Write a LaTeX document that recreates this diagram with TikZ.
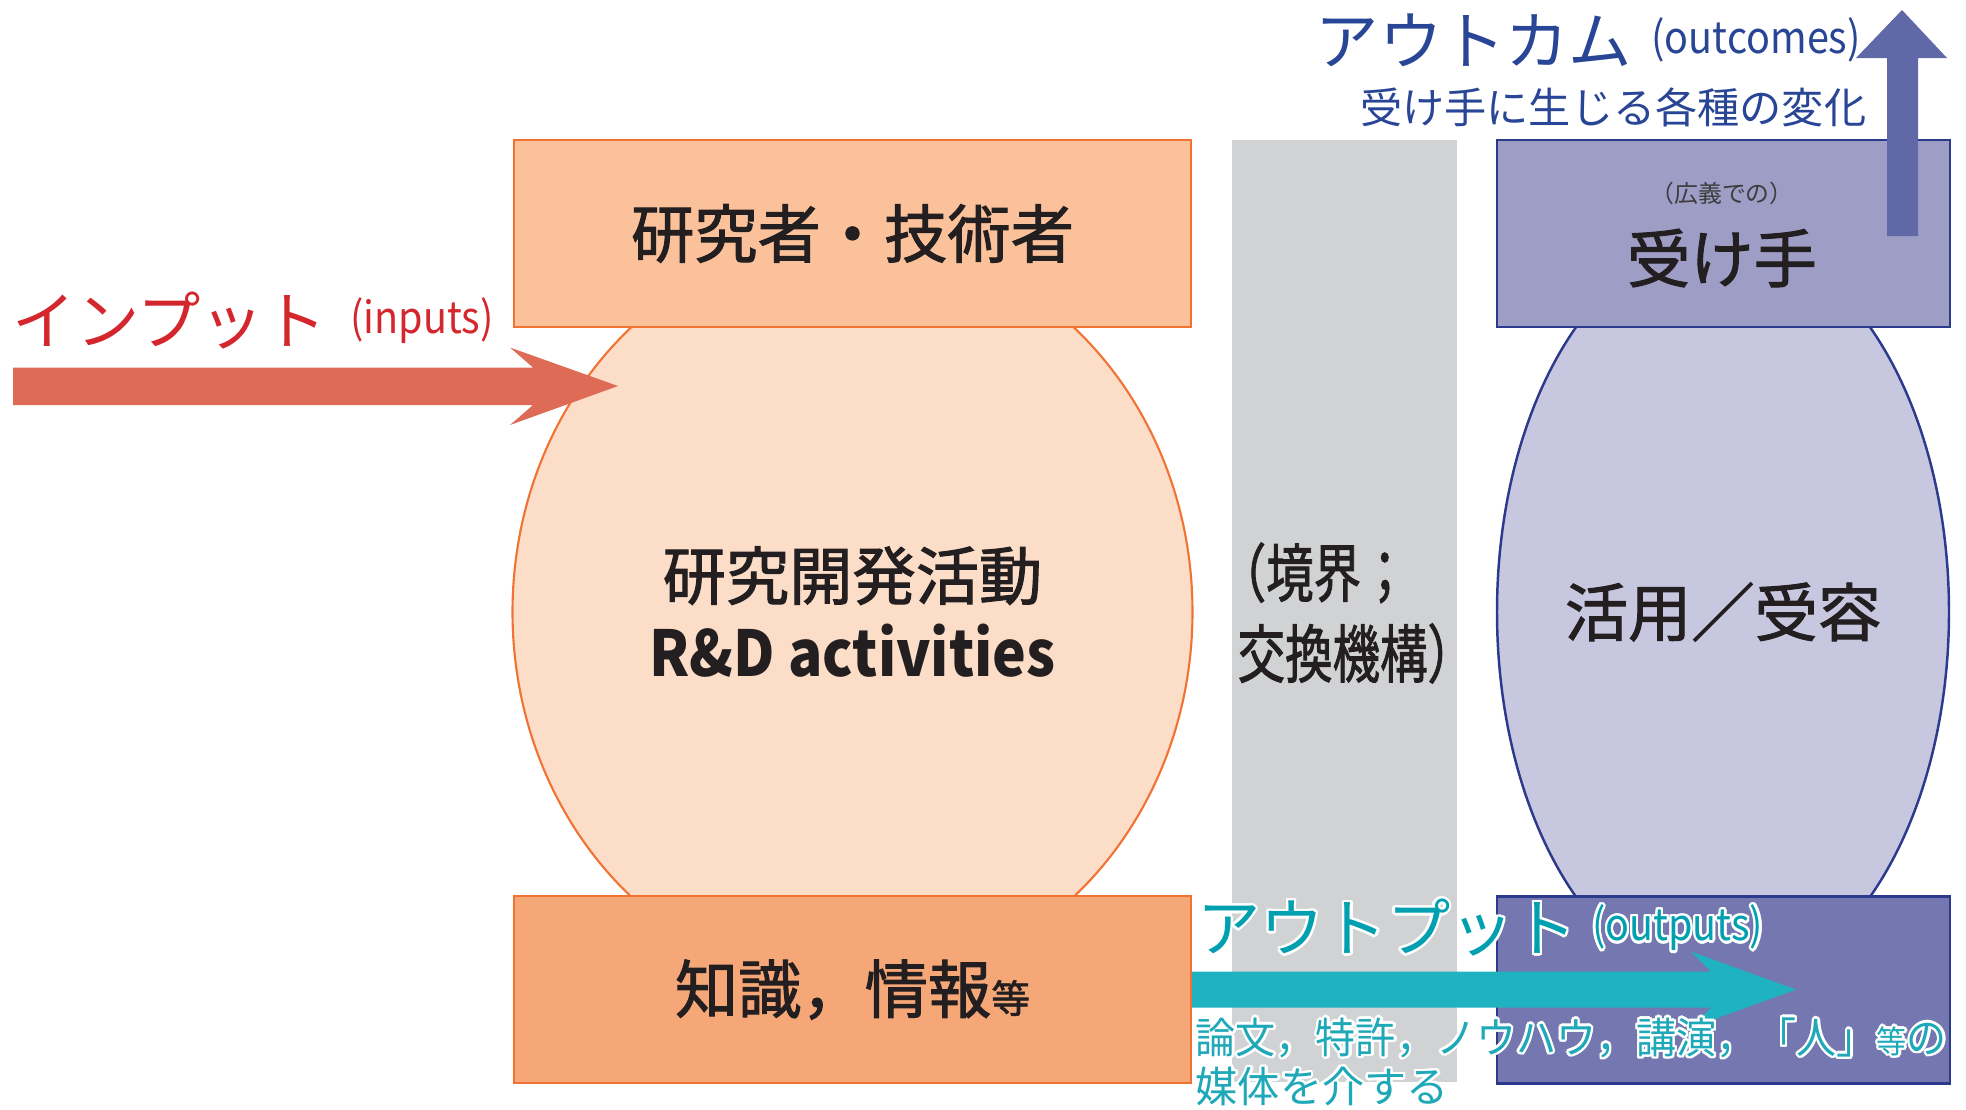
\documentclass[tikz,border=0pt]{standalone}
\usepackage{fontspec}
\setmainfont{Noto Sans CJK JP}
\newfontfamily\jpmed{Noto Sans CJK JP}[FakeBold=1.6]
\usepackage{contour}
\contourlength{0.7pt}
\usetikzlibrary{positioning,shapes}

\definecolor{edgeorange}{RGB}{241,114,51}
\definecolor{toporange}{RGB}{250,193,155}
\definecolor{lightorange}{RGB}{251,221,200}
\definecolor{botorange}{RGB}{246,167,119}
\definecolor{bandgray}{RGB}{209,210,212}
\definecolor{edgeblue}{RGB}{43,58,140}
\definecolor{topviolet}{RGB}{158,157,198}
\definecolor{lightviolet}{RGB}{199,199,224}
\definecolor{botviolet}{RGB}{117,119,176}
\definecolor{upviolet}{RGB}{96,104,168}
\definecolor{outcomeblue}{RGB}{41,69,150}
\definecolor{inarrow}{RGB}{222,107,85}
\definecolor{inred}{RGB}{212,39,45}
\definecolor{outarrow}{RGB}{31,178,192}
\definecolor{outteal}{RGB}{0,160,176}
\definecolor{mediateal}{RGB}{30,168,184}
\definecolor{inkblack}{RGB}{35,31,32}
\definecolor{subgray}{RGB}{60,60,60}

\newcommand{\bigjp}{\fontsize{18}{22}\selectfont}
\newcommand{\midjp}{\fontsize{12}{14}\selectfont}
\newcommand{\enlbl}{\fontsize{12.5}{15}\selectfont}
\newcommand{\narrow}[1]{\scalebox{.9}[1]{#1}}

\tikzstyle{obox}=[rectangle, draw=edgeorange, line width=0.6pt, minimum width=67.7mm, minimum height=18.7mm,
inner sep=0pt, font=\bigjp\jpmed, text=inkblack]
\tikzstyle{vbox}=[rectangle, draw=edgeblue, line width=0.7pt, minimum width=45.3mm, minimum height=18.7mm, inner sep=0pt]
\tikzstyle{blob}=[ellipse, line width=0.6pt, minimum height=75mm, inner sep=0pt, align=center, font=\bigjp\jpmed,
text=inkblack]
\tikzstyle{lbl}=[inner sep=0pt]

\begin{document}
\begin{tikzpicture}[x=0.1mm,y=-0.1mm]
\useasboundingbox (0,0) rectangle (1966,1109);

%boundary
\node (band) [fill=bandgray, minimum width=22.5mm, minimum height=94.2mm, inner sep=0pt] at (1344.5,611) {};
\node (bandtxt) [lbl, anchor=west, align=left, font=\fontsize{18}{23}\selectfont\jpmed, text=inkblack] at (1237,613)
 {\scalebox{.75}[1]{\kern-.4em（境界；}\\\scalebox{.75}[1]{交換機構）}};

%R&D side
\node (rnd) [blob, draw=edgeorange, fill=lightorange, minimum width=68mm] at (852.5,612)
 {研究開発活動\\\narrow{\normalfont\bfseries R\&D activities}};
\node (rsr) [obox, fill=toporange] at (852.5,233.5) {研究者・技術者};
\node (know) [obox, fill=botorange, below=56.7mm of rsr] {知識，情報{\fontsize{11}{11}\selectfont 等}};

%receiver side
\node (use) [blob, draw=edgeblue, line width=0.7pt, fill=lightviolet, minimum width=45.2mm] at (1723,612) {活用／受容};
\node (rcv) [vbox, fill=topviolet] at (1723.5,233.5) {};
\node (rcvout) [vbox, fill=botviolet, below=56.7mm of rcv] {};
\node (rcvsub) [lbl, font=\fontsize{6.8}{7}\selectfont, text=subgray] at (1722,193) {（広義での）};
\node (rcvlbl) [lbl, font=\bigjp\jpmed, text=inkblack] at (1722,258) {受け手};

%arrows
\coordinate (instart) at (13,386);
\coordinate (intip) at (618,386);
\fill[inarrow] (instart) ++(0,-18.5) -- ++(520,0) -- ++(-23,-20) -- (intip) -- ++(-108,39) -- ++(23,-20) -- ++(-520,0) -- cycle;
\fill[outarrow] (know.east) ++(0,-18) -- ++(519,0) -- ++(-20,-20) -- ++(105,38) -- ++(-105,38) -- ++(20,-20) -- ++(-519,0) -- cycle;
\coordinate (upfoot) at (1902,236);
\fill[upviolet] (upfoot) ++(-15,0) -- ++(0,-178) -- ++(-31,0) -- ++(46,-48) -- ++(45,48) -- ++(-29,0) -- ++(0,178) -- cycle;

%labels
\node (outc) [lbl, font=\bigjp, text=outcomeblue] at (1474,40) {アウトカム};
\node (outcen) [lbl, font=\enlbl, text=outcomeblue, right=1.8mm of outc] {\narrow{(outcomes)}};
\node (outcsub) [lbl, font=\midjp, text=outcomeblue, anchor=east] at (1867,107) {受け手に生じる各種の変化};

\node (inlbl) [lbl, font=\bigjp, text=inred] at (170,321) {インプット};
\node (inlblen) [lbl, font=\enlbl, text=inred, right=2.2mm of inlbl] {\narrow{(inputs)}};

\node (outlbl) [lbl, font=\bigjp, text=outteal] at (1387,929) {\contour{white}{アウトプット}};
\node (outlblen) [lbl, font=\enlbl, text=outteal, right=1.4mm of outlbl] {\narrow{\contour{white}{(outputs)}}};
\node (media) [lbl, font=\midjp, text=mediateal, anchor=north west, align=left] at (1195,1017)
 {\scalebox{.95}[1]{\contour{white}{論文，特許，ノウハウ，講演，「人」{\fontsize{9}{9}\selectfont 等}の}}\\\contour{white}{媒体を介する}};

\end{tikzpicture}
\end{document}
